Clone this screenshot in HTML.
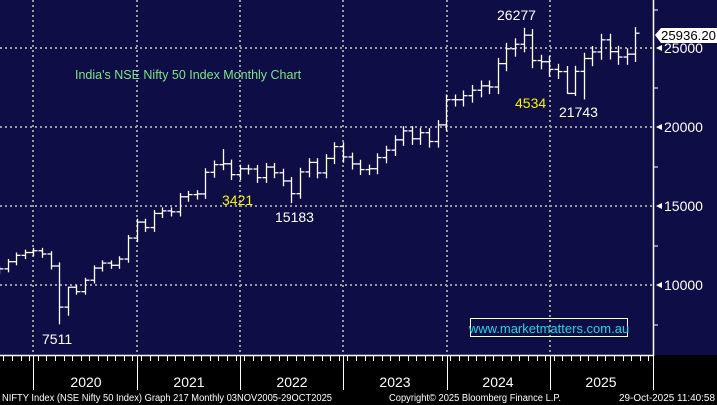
<!DOCTYPE html>
<html><head><meta charset="utf-8"><style>
html,body{margin:0;padding:0;background:#000;}
svg{display:block;font-family:"Liberation Sans",sans-serif;}
</style></head><body>
<svg id="s" width="717" height="405" viewBox="0 0 717 405" xmlns="http://www.w3.org/2000/svg">
<rect x="0" y="0" width="717" height="405" fill="#000"/>
<rect x="0" y="0" width="717" height="355" fill="#0f0d45"/>
<g stroke="#9a9a9a" stroke-width="2" stroke-dasharray="2,3">
<line x1="33" y1="0" x2="33" y2="355"/><line x1="137" y1="0" x2="137" y2="355"/>
<line x1="240" y1="0" x2="240" y2="355"/><line x1="343" y1="0" x2="343" y2="355"/>
<line x1="447" y1="0" x2="447" y2="355"/><line x1="550" y1="0" x2="550" y2="355"/>
<line x1="0" y1="48" x2="653" y2="48"/><line x1="0" y1="127" x2="653" y2="127"/>
<line x1="0" y1="206" x2="653" y2="206"/><line x1="0" y1="285" x2="653" y2="285"/>
</g>
<line x1="653.5" y1="0" x2="653.5" y2="356" stroke="#fff" stroke-width="1.5"/>
<line x1="0" y1="355.5" x2="654" y2="355.5" stroke="#fff" stroke-width="1.5"/>
<g stroke="#fff" stroke-width="1">
<line x1="33.5" y1="356" x2="33.5" y2="390"/><line x1="137.5" y1="356" x2="137.5" y2="390"/>
<line x1="240.5" y1="356" x2="240.5" y2="390"/><line x1="343.5" y1="356" x2="343.5" y2="390"/>
<line x1="447.5" y1="356" x2="447.5" y2="390"/><line x1="550.5" y1="356" x2="550.5" y2="390"/>
<line x1="653.5" y1="356" x2="653.5" y2="390"/>
</g>
<g id="ticks" stroke="#fff" stroke-width="1"></g>
<g id="bars" stroke="#fff" stroke-width="1.3"></g>
<g fill="#fff" font-size="14" text-anchor="middle">
<text x="86" y="387">2020</text><text x="189" y="387">2021</text><text x="292" y="387">2022</text>
<text x="395" y="387">2023</text><text x="498" y="387">2024</text><text x="601" y="387">2025</text>
</g>
<g fill="#fff" font-size="10">
<text x="2" y="401" textLength="330" lengthAdjust="spacingAndGlyphs">NIFTY Index (NSE Nifty 50 Index) Graph 217 Monthly 03NOV2005-29OCT2025</text>
<text x="389" y="401" textLength="172" lengthAdjust="spacingAndGlyphs">Copyright© 2025 Bloomberg Finance L.P.</text>
<text x="619" y="401" textLength="96" lengthAdjust="spacingAndGlyphs">29-Oct-2025 11:40:58</text>
</g>
<g fill="#fff" font-size="14">
<polygon points="656,48 662,45 662,51"/><text x="664" y="53">25000</text>
<polygon points="656,127 662,124 662,130"/><text x="664" y="132">20000</text>
<polygon points="656,206 662,203 662,209"/><text x="664" y="211">15000</text>
<polygon points="656,285 662,282 662,288"/><text x="664" y="290">10000</text>
</g>
<g stroke="#fff" stroke-width="1"><line x1="654" y1="10" x2="658" y2="10"/><line x1="654" y1="88" x2="658" y2="88"/><line x1="654" y1="167" x2="658" y2="167"/><line x1="654" y1="246" x2="658" y2="246"/><line x1="654" y1="325" x2="658" y2="325"/></g>
<polygon points="655,35 661,28 717,28 717,43 661,43" fill="#fff"/>
<text x="661" y="40" font-size="13" fill="#000" textLength="55" lengthAdjust="spacingAndGlyphs">25936.20</text>
<text x="75" y="79" font-size="12.5" fill="#7fe38a">India's NSE Nifty 50 Index Monthly Chart</text>
<text x="497" y="20" font-size="14" fill="#fff">26277</text>
<text x="515" y="108" font-size="14" fill="#f5f500">4534</text>
<text x="559" y="117" font-size="14" fill="#fff">21743</text>
<text x="222" y="205" font-size="14" fill="#f5f500">3421</text>
<text x="275" y="222" font-size="14" fill="#fff">15183</text>
<text x="42" y="344" font-size="14" fill="#fff">7511</text>
<rect x="470.5" y="318.5" width="157" height="18" fill="none" stroke="#fff" stroke-width="1"/>
<text x="549" y="333" font-size="13" fill="#1fd8e0" text-anchor="middle">www.marketmatters.com.au</text>
</svg>
<script>
var NS="http://www.w3.org/2000/svg";
function Y(v){return 48+(25000-v)*0.0158;}
var closes=[11023,11474,11877,12056,12168,
11962,11202,8598,9860,9580,10302,11073,11388,11248,11642,12969,13982,
13635,14529,14691,14631,15583,15722,15763,17132,17618,17672,16983,17354,
17340,16794,17465,17103,16585,15780,17158,17759,17094,18012,18758,18105,
17662,17304,17360,18065,18534,19189,19754,19254,19638,19080,20133,21731,
21726,21983,22327,22605,22531,24011,24951,25236,25811,24205,24131,23645,
23508,22125,23519,24334,24751,25517,24768,24427,24611,25936];
var ov={2:[11433,7511],3:[9890,8055],56:[26277,null],29:[null,15183],
 61:[null,22104],62:[null,21964],63:[null,21743],21:[18600,null]};
var g=document.getElementById('bars');
function ln(p,x1,y1,x2,y2){var l=document.createElementNS(NS,'line');l.setAttribute('x1',x1);l.setAttribute('y1',y1);l.setAttribute('x2',x2);l.setAttribute('y2',y2);p.appendChild(l);}
var prev=10900;
for(var i=0;i<closes.length;i++){
 var m=i-5; var x=Math.round(42+m*8.6)+0.5;
 var o=prev,c=closes[i];
 var h=Math.max(o,c)*1.015,l=Math.min(o,c)*0.98;
 if(ov[m]){if(ov[m][0])h=ov[m][0];if(ov[m][1])l=ov[m][1];}
 ln(g,x,Y(h),x,Y(l));ln(g,x-4,Y(o),x,Y(o));ln(g,x,Y(c),x+4,Y(c));
 prev=c;
}
var t=document.getElementById('ticks');
for(var i=-5;i<72;i++){var x=Math.round(37.7+i*8.6)+0.5;if(x>0&&x<653)ln(t,x,356,x,361);}
</script>
</body></html>
